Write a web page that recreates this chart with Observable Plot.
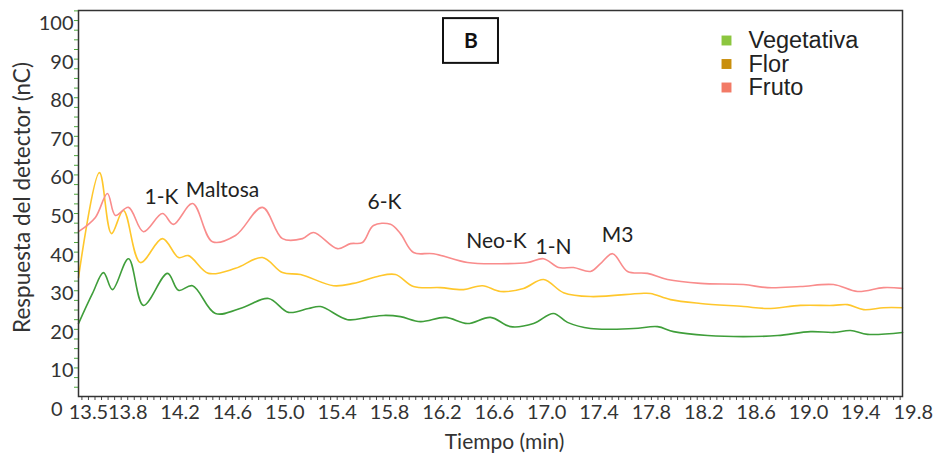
<!DOCTYPE html>
<html>
<head>
<meta charset="utf-8">
<script src="https://cdn.jsdelivr.net/npm/d3@7"></script>
<script src="https://cdn.jsdelivr.net/npm/@observablehq/plot@0.6"></script>
<style>
  html, body { margin: 0; padding: 0; background: #fff; }
  #chart svg { display: block; overflow: visible; }
</style>
</head>
<body>
<div id="chart"></div>
<script>
// ---- Data ----
const series = ["Vegetativa", "Flor", "Fruto"];
const lineColors = ["#3f9e3a", "#ffc72c", "#f98c8c"];
const legendColors = ["#8cc63f", "#c98f0d", "#f27a66"];

// [tiempo (min), respuesta (nC)]
const vegetativa = [[13.424,21.5],[13.531,29.3],[13.615,34.7],[13.683,30.3],[13.806,38.3],[13.920,26.2],[14.104,34.5],[14.188,30.1],[14.295,31.3],[14.470,24.1],[14.676,25.6],[14.875,28.0],[15.028,24.4],[15.181,25.4],[15.272,25.9],[15.479,22.5],[15.631,23.1],[15.754,23.6],[15.883,23.3],[16.036,22.0],[16.227,23.1],[16.395,21.5],[16.571,23.1],[16.724,20.7],[16.900,21.5],[17.052,24.1],[17.159,21.8],[17.335,20.2],[17.663,20.2],[17.847,20.7],[17.969,19.4],[18.229,18.4],[18.504,18.1],[18.764,18.4],[19.016,19.4],[19.191,19.2],[19.321,19.7],[19.451,18.7],[19.718,19.2]];
const flor = [[13.424,33.4],[13.584,60.6],[13.676,44.8],[13.767,50.8],[13.897,37.3],[14.065,43.5],[14.188,38.6],[14.264,39.1],[14.417,34.5],[14.623,35.8],[14.829,38.6],[14.982,34.7],[15.120,34.2],[15.372,31.3],[15.524,31.9],[15.708,33.7],[15.845,34.2],[15.983,31.1],[16.189,30.8],[16.365,30.3],[16.510,31.3],[16.647,29.8],[16.823,30.6],[16.976,32.9],[17.129,29.5],[17.335,28.5],[17.717,29.3],[17.793,29.3],[17.946,27.7],[18.175,26.7],[18.504,25.9],[18.687,25.4],[18.939,26.2],[19.191,26.2],[19.298,26.4],[19.421,25.1],[19.573,25.6],[19.718,25.6]];
const fruto = [[13.424,45.3],[13.553,49.0],[13.645,55.2],[13.706,49.5],[13.806,51.6],[13.920,45.3],[14.065,50.0],[14.149,47.2],[14.295,52.6],[14.447,42.7],[14.623,44.3],[14.829,51.6],[14.982,43.5],[15.135,43.5],[15.219,45.1],[15.402,40.9],[15.502,42.2],[15.593,42.5],[15.677,46.9],[15.807,47.2],[15.883,44.8],[15.983,39.9],[16.136,39.6],[16.395,37.3],[16.647,37.0],[16.854,37.3],[16.976,38.3],[17.091,36.0],[17.205,36.0],[17.335,35.0],[17.411,37.0],[17.503,39.6],[17.618,35.0],[17.770,34.5],[17.923,32.9],[18.175,31.9],[18.504,31.6],[18.687,30.8],[18.939,31.1],[19.191,31.6],[19.375,29.8],[19.573,30.8],[19.718,30.6]];

// peak annotations
const picos = ["1-K", "Maltosa", "6-K", "Neo-K", "1-N", "M3"];
const picosTiempo = [14.058, 14.524, 15.761, 16.617, 17.052, 17.541];
const picosRespuesta = [54.1, 56.0, 52.8, 42.7, 41.2, 44.3];

// panel label box
const panelLabel = "B";
const panelTiempo = [16.212, 16.632];
const panelRespuesta = [88.9, 100.5];

// axes
const xDomain = [13.424, 19.718];
const yDomain = [2.6, 102.6];
const xTickLabels = [13.5, 13.8, 14.2, 14.6, 15.0, 15.4, 15.8, 16.2, 16.6, 17.0, 17.4, 17.8, 18.2, 18.6, 19.0, 19.4, 19.8];
const yTickLabels = [10, 20, 30, 40, 50, 60, 70, 80, 90, 100];
const yZeroLabel = [0];
const xTitle = "Tiempo (min)";
const yTitle = "Respuesta del detector (nC)";

// ---- Build table ----
const allSeries = [vegetativa, flor, fruto];
const rows = allSeries.flatMap((arr, i) => arr.map(([t, v]) => ({serie: series[i], t, v})));
const picosData = picos.map((p, i) => ({label: p, t: picosTiempo[i], v: picosRespuesta[i]}));
const boxData = [{x1: panelTiempo[0], x2: panelTiempo[1], y1: panelRespuesta[0], y2: panelRespuesta[1], label: panelLabel}];

const xMinor = d3.range(Math.ceil(xDomain[0] / 0.05) * 0.05, xDomain[1], 0.05);
const yMinor = d3.range(5, yDomain[1], 2.5);

const font = "Lato, 'Open Sans', sans-serif";

const legendMarks = series.flatMap((s, i) => [
  Plot.dot([s], {frameAnchor: "top-right", dx: -176, dy: 30 + i * 23.5, symbol: "square", r: 5.6, fill: legendColors[i], stroke: "none"}),
  Plot.text([s], {frameAnchor: "top-right", dx: -154, dy: 30 + i * 23.5, textAnchor: "start", lineAnchor: "middle", fontSize: 23.5, fill: "#222", fontFamily: "'Liberation Sans', Arial, sans-serif"})
]);

const chart = Plot.plot({
  width: 940,
  height: 460,
  marginLeft: 78,
  marginRight: 38,
  marginTop: 10,
  marginBottom: 64,
  style: {fontFamily: font, background: "#fff", color: "#222"},
  x: {domain: xDomain},
  y: {domain: yDomain},
  color: {domain: series, range: lineColors},
  marks: [
    // y minor ticks (green)
    Plot.axisY({ticks: yMinor, tickSize: 4, tickFormat: () => "", stroke: "#4caa3c", label: null}),
    // y labels
    Plot.axisY({ticks: yTickLabels, tickSize: 0, tickPadding: 5, dy: 3, fontSize: 20, fill: "#333", label: null}),
    Plot.axisY({ticks: yZeroLabel, tickSize: 0, tickPadding: 5, dx: -11, dy: 3, fontSize: 20, fill: "#333", label: null}),
    // x minor ticks
    Plot.axisX({ticks: xMinor, tickSize: 4, tickFormat: () => "", stroke: "#444", label: null}),
    // x labels
    Plot.axisX({ticks: xTickLabels, tickSize: 0, tickPadding: 8, fontSize: 20, fill: "#333", tickFormat: d3.format(".1f"), label: null}),
    Plot.line(rows, {x: "t", y: "v", z: "serie", stroke: "serie", strokeWidth: 1.6, curve: "catmull-rom"}),
    Plot.frame({stroke: "#333", strokeWidth: 1.5}),
    Plot.text(picosData, {x: "t", y: "v", text: "label", fontSize: 21, fill: "#222"}),
    Plot.rect(boxData, {x1: "x1", x2: "x2", y1: "y1", y2: "y2", fill: "#fff", stroke: "#111", strokeWidth: 2}),
    Plot.text(boxData, {x: d => (d.x1 + d.x2) / 2, y: d => (d.y1 + d.y2) / 2, text: "label", fontSize: 21, fontWeight: "bold", fill: "#111"}),
    ...legendMarks,
    Plot.text([yTitle], {frameAnchor: "left", dx: -56, dy: -6, rotate: -90, textAnchor: "middle", lineAnchor: "middle", fontSize: 22.5, fill: "#333"}),
    Plot.text([xTitle], {frameAnchor: "bottom", dx: 14, dy: 46, textAnchor: "middle", lineAnchor: "middle", fontSize: 21, fill: "#333"})
  ]
});
document.getElementById("chart").appendChild(chart);
</script>
</body>
</html>
